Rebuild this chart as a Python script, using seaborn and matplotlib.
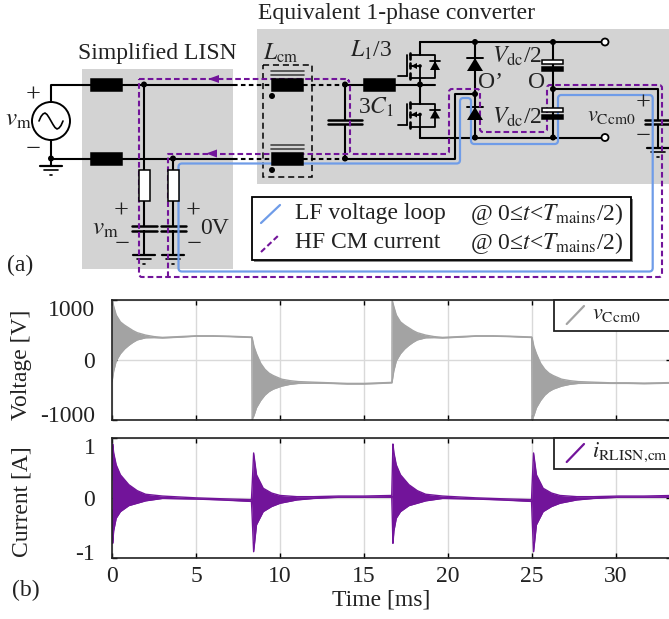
import numpy as np
import pandas as pd
import matplotlib
matplotlib.use("Agg")
import matplotlib.pyplot as plt
import seaborn as sns
from matplotlib.patches import Rectangle, Circle, Polygon, PathPatch
from matplotlib.path import Path
from matplotlib.transforms import ScaledTranslation

# values: envelope of the fast ringing
t_v = [0.0, 0.1, 0.25, 0.5, 0.75, 1.0, 1.25, 1.5, 2.0, 2.5, 3.0, 4.0, 5.0, 6.0, 7.0, 8.32,
       8.34, 8.45, 8.6, 8.85, 9.1, 9.35, 9.6, 10.1, 10.6, 11.1, 12.0, 13.0, 14.0, 15.0, 16.0, 16.66,
       16.67, 16.77, 16.92, 17.17, 17.42, 17.67, 17.92, 18.17, 18.67, 19.17, 19.67, 20.67, 21.67, 22.67, 23.67, 24.98,
       25.0, 25.11, 25.26, 25.51, 25.76, 26.01, 26.26, 26.76, 27.26, 27.76, 28.67, 29.67, 30.67, 31.67, 32.67, 33.4]
v_upper = [1000, 890, 745, 630, 575, 530, 485, 450, 410, 385, 372, 385, 398, 398, 392, 378,
           370, 220, 100, -60, -160, -225, -265, -325, -350, -365, -375, -385, -395, -395, -385, -378,
           1000, 890, 745, 630, 575, 530, 485, 450, 410, 385, 372, 385, 398, 398, 392, 378,
           370, 220, 100, -60, -160, -225, -265, -325, -350, -365, -375, -385, -385, -390, -385, -380]
v_lower = [-370, -190, -20, 100, 180, 240, 290, 330, 365, 368, 362, 375, 392, 392, 385, 370,
           -1000, -930, -800, -680, -590, -530, -490, -440, -410, -395, -390, -395, -405, -405, -395, -385,
           -370, -190, -20, 100, 180, 240, 290, 330, 365, 368, 362, 375, 392, 392, 385, 370,
           -1000, -930, -800, -680, -590, -530, -490, -440, -410, -395, -390, -395, -395, -400, -395, -388]

t_i = [0.0, 0.04, 0.1, 0.25, 0.5, 1.0, 1.5, 2.0, 3.0, 4.0, 5.0, 6.5, 8.3,
       8.34, 8.43, 8.6, 9.0, 9.5, 10.0, 11.0, 12.0, 13.5, 15.0, 16.65,
       16.67, 16.72, 16.78, 16.92, 17.17, 17.67, 18.17, 18.67, 19.67, 20.67, 21.67, 23.17, 24.97,
       25.0, 25.09, 25.26, 25.66, 26.16, 26.66, 27.66, 28.66, 30.16, 31.66, 33.4]
i_upper = [0.3, 0.9, 0.75, 0.55, 0.385, 0.22, 0.12, 0.06, 0.03, 0.015, 0.0, -0.015, -0.03,
           0.2, 0.75, 0.385, 0.16, 0.08, 0.04, 0.02, 0.02, 0.03, 0.03, 0.04,
           0.3, 0.9, 0.75, 0.55, 0.385, 0.22, 0.12, 0.06, 0.03, 0.015, 0.0, -0.015, -0.03,
           0.2, 0.75, 0.385, 0.16, 0.08, 0.04, 0.02, 0.02, 0.03, 0.03, 0.04]
i_lower = [-0.2, -0.76, -0.55, -0.34, -0.23, -0.13, -0.09, -0.05, -0.01, -0.015, -0.02, -0.035, -0.06,
           -0.3, -0.9, -0.45, -0.23, -0.145, -0.09, -0.035, -0.01, 0.01, 0.01, 0.01,
           -0.2, -0.76, -0.55, -0.34, -0.23, -0.13, -0.09, -0.05, -0.01, -0.015, -0.02, -0.035, -0.06,
           -0.3, -0.9, -0.45, -0.23, -0.145, -0.09, -0.035, -0.01, 0.01, 0.01, 0.01]

time_ticks = [0, 5, 10, 15, 20, 25, 30]
volt_ticks = [-1000, 0, 1000]
curr_ticks = [-1, 0, 1]

GRAY = "#a3a3a3"
PURPLE = "#72149a"
BLUE = "#6f9ce8"
BG = "#d3d3d3"

W, H = 669, 619
sns.set_theme(style="white")
plt.rcParams["font.family"] = ["Liberation Serif", "DejaVu Serif"]
plt.rcParams["mathtext.fontset"] = "stix"
plt.rcParams["axes.unicode_minus"] = False

fig = plt.figure(figsize=(W / 100, H / 100), dpi=100)


def px_axes(left, top, right, bottom):
    return fig.add_axes([left / W, 1 - bottom / H, (right - left) / W, (bottom - top) / H])


def envelope(ax, t, upper, lower, color, ymax, ticks):
    sns.lineplot(x=t, y=upper, ax=ax, color=color, lw=1.0, estimator=None, sort=False)
    sns.lineplot(x=t, y=lower, ax=ax, color=color, lw=1.0, estimator=None, sort=False)
    ax.fill_between(t, lower, upper, color=color, lw=0)
    ax.set_xlim(0, 33.27)
    ax.set_ylim(-ymax, ymax)
    ax.set_xticks(time_ticks)
    ax.set_yticks(ticks)
    ax.grid(True, color="#d9d9d9", lw=1.0)
    ax.set_axisbelow(True)
    ax.tick_params(direction="in", top=True, right=True, left=True, bottom=True, length=3.5,
                   width=1, color="black", labelsize=17, labelcolor="#222222")
    ax.tick_params(axis="y", pad=12)
    ax.tick_params(axis="x", pad=6)
    for s in ax.spines.values():
        s.set_color("#222222")
        s.set_linewidth(1.2)
    labels = ax.get_yticklabels()
    labels[0].set_va("center")
    labels[0].set_transform(labels[0].get_transform() + ScaledTranslation(0, 2 / 72, fig.dpi_scale_trans))
    labels[-1].set_va("top")


ax1 = px_axes(112, 299.7, 671, 419.7)
envelope(ax1, t_v, v_upper, v_lower, GRAY, 1000, volt_ticks)
ax1.set_xticklabels([])
ax2 = px_axes(112, 438, 671, 557.7)
envelope(ax2, t_i, i_upper, i_lower, PURPLE, 1, curr_ticks)

# everything else is drawn in pixel coordinates on top
ax = fig.add_axes([0, 0, 1, 1], zorder=5)
ax.set_xlim(0, W)
ax.set_ylim(H, 0)
ax.axis("off")

LW = 1.5


def wire(xs, ys, color="black", lw=LW, ls="-", z=3):
    ax.plot(xs, ys, color=color, lw=lw, ls=ls, zorder=z, solid_capstyle="round")


def node(x, y, r=3):
    ax.add_patch(Circle((x, y), r, fc="black", ec="none", zorder=6))


def block(x0, x1, y0, y1, fc="black", lw=1.1, z=5):
    ax.add_patch(Rectangle((x0, y0), x1 - x0, y1 - y0, fc=fc, ec="black", lw=lw, zorder=z))


def ground(x, y, w=11):
    wire([x - w, x + w], [y, y], lw=1.6)
    wire([x - w * 0.6, x + w * 0.6], [y + 4, y + 4], lw=1.2)
    wire([x - 1, x + 1], [y + 9, y + 9], lw=1.2)


def cap(x, y0, y1, w=12.5):
    wire([x - w, x + w], [y0, y0], lw=1.8, z=4)
    wire([x - w, x + w], [y1, y1], lw=1.8, z=4)


def label(x, y, s, size=17, ha="left", va="center", **kw):
    ax.text(x, y, s, fontsize=size, ha=ha, va=va, color="#222222", zorder=8, **kw)


def rounded(points, r=3.5, closed=False):
    verts, codes = [], []
    pts = [np.array(p, float) for p in points]
    n = len(pts)
    for i, p in enumerate(pts):
        if not closed and i in (0, n - 1):
            verts.append(p)
            codes.append(Path.MOVETO if i == 0 else Path.LINETO)
            continue
        a, b = pts[i - 1], pts[(i + 1) % n]
        p0 = p + (a - p) / np.linalg.norm(a - p) * r
        p1 = p + (b - p) / np.linalg.norm(b - p) * r
        verts.append(p0)
        codes.append(Path.MOVETO if i == 0 else Path.LINETO)
        verts += [p, p1]
        codes += [Path.CURVE3, Path.CURVE3]
    if closed:
        verts.append(verts[0])
        codes.append(Path.LINETO)
    return Path(verts, codes)


def mosfet(x, y):
    wire([x - 10, x, x, x + 15, x + 15, x], [y, y, y, y, y + 23, y + 23], lw=1.3)
    wire([x - 10, x], [y + 23, y + 23], lw=1.3)
    wire([x, x], [y + 11, y + 23], lw=1.3)
    wire([x - 10, x], [y + 11, y + 11], lw=1.3)
    for a, b in [(-2, 4), (8, 13), (18, 24)]:
        wire([x - 10, x - 10], [y + a, y + b], lw=1.9)
    wire([x - 13, x - 13], [y, y + 21], lw=1.3)
    wire([x - 22, x - 13], [y + 21, y + 21], lw=1.3)
    ax.add_patch(Polygon([[x - 9, y + 11], [x - 3, y + 8], [x - 3, y + 14]], fc="black", ec="none", zorder=6))
    ax.add_patch(Polygon([[x + 15, y + 6], [x + 10, y + 15], [x + 20, y + 15]], fc="black", ec="none", zorder=6))
    wire([x + 10, x + 20], [y + 6, y + 6], lw=1.3)
    node(x, y + 11, 1.8)


# gray backgrounds
ax.add_patch(Rectangle((82, 69), 151, 200, fc=BG, ec="none", zorder=1))
ax.add_patch(Rectangle((257, 29), 412, 155, fc=BG, ec="none", zorder=1))

# source and grid side wires
wire([51, 51, 91], [102, 84.5, 84.5])
wire([51, 91], [158.5, 158.5])
wire([51, 51], [140, 166])
ax.add_patch(Circle((51, 121), 19, fc="white", ec="black", lw=1.4, zorder=5))
sx = [39, 41, 43, 45, 47, 49, 51, 53, 55, 57, 59, 61, 63]
sy = [121, 116.5, 114, 113, 114.5, 117.5, 121, 124.5, 127.5, 129, 128, 125.5, 121]
ax.plot(sx, sy, color="black", lw=1.2, zorder=6)
node(51, 158.5)
ground(51, 166)

# simplified LISN
block(91, 122, 78.5, 90.5)
block(91, 122, 152.5, 164.5)
wire([122, 233], [84.5, 84.5])
wire([122, 233], [158.5, 158.5])
wire([144, 144], [84.5, 255])
wire([173, 173], [158.5, 255])
node(144, 84.5)
node(173, 158.5)
block(138.5, 149.5, 170, 201, fc="white")
block(167.5, 178.5, 170, 201, fc="white")
for cx in (144, 173):
    ax.add_patch(Rectangle((cx - 2, 227), 4, 3, fc=BG, ec="none", zorder=3.5))
    cap(cx, 226, 231)
    ground(cx, 255)

# CM choke and dashed links
wire([233, 272], [84.5, 84.5], ls=(0, (2.2, 1.6)))
wire([233, 272], [158.5, 158.5], ls=(0, (2.2, 1.6)))
wire([303, 345], [84.5, 84.5], ls=(0, (2.2, 1.6)))
wire([303, 345], [158.5, 158.5], ls=(0, (2.2, 1.6)))
block(272, 303, 78.5, 90.5)
block(272, 303, 152.5, 164.5)
for y in (71, 75, 145, 149):
    wire([271, 304], [y, y], color="#444444", lw=1.2)
node(272, 96)
node(272, 170)
ax.add_patch(Rectangle((263, 65), 49, 112, fc="none", ec="black", lw=1.1, ls=(0, (4, 2.5)), zorder=4))

# 3C1 and L1/3
wire([345, 345], [84.5, 158.5])
wire([345, 364], [84.5, 84.5])
wire([395, 435], [84.5, 84.5])
wire([345, 455, 455, 475], [158.5, 158.5, 94, 94])
node(345, 84.5)
node(345, 158.5)
ax.add_patch(Rectangle((343, 120.5), 4, 3, fc=BG, ec="none", zorder=3.5))
cap(345, 119.5, 124, w=17)
block(364, 395, 78.5, 90.5)

# half bridge
wire([420, 420], [42, 55])
wire([420, 420], [78, 103.5])
wire([420, 420], [126.5, 137.5])
wire([420, 605], [42, 42])
wire([420, 605], [137.5, 137.5])
node(420, 84.5)
mosfet(420, 55)
mosfet(420, 103.5)

# diodes
wire([475, 475], [42, 137.5])
for y in (58, 107):
    ax.add_patch(Polygon([[475, y], [467, y + 13], [483, y + 13]], fc="black", ec="none", zorder=6))
    wire([467, 483], [y, y], lw=1.4)
for y in (42, 94, 137.5):
    node(475, y)

# dc link capacitors
wire([553, 553], [42, 137.5])
for y in (60, 108):
    block(542, 563, y, y + 4, fc="white", z=6)
    block(542, 563, y + 7, y + 11, z=6)
for y in (42, 89, 137.5):
    node(553, y)
wire([553, 658, 658], [89, 89, 148])
ax.add_patch(Rectangle((656, 120.5), 4, 3, fc=BG, ec="none", zorder=3.5))
cap(658, 119.5, 124, w=13)
ground(658, 148)
ax.add_patch(Circle((605, 42), 3.5, fc="white", ec="black", lw=1.3, zorder=6))
ax.add_patch(Circle((605, 137.5), 3.5, fc="white", ec="black", lw=1.3, zorder=6))

# current loops
blue_pts = [(178.5, 163.5), (460, 163.5), (460, 98), (471, 98), (471, 144), (558, 144), (558, 95),
            (652.7, 95), (652.7, 271.5), (178.5, 271.5)]
ax.add_patch(PathPatch(rounded(blue_pts, closed=True), fc="none", ec=BLUE, lw=1.6, zorder=4.5))
dash = (0, (2.7, 1.5))
pur_pts = [(139, 79), (347, 79), (350, 82), (350, 154), (449, 154), (449, 89), (480, 89), (480, 132),
           (547, 132), (547, 85), (662, 85), (662, 277), (139, 277), (139, 79)]
ax.add_patch(PathPatch(rounded(pur_pts, r=3), fc="none", ec=PURPLE, lw=1.5, ls=dash, zorder=4.6))
ax.plot([168, 168, 175, 350], [277, 153.5, 153.5, 153.5], color=PURPLE, lw=1.5, ls=dash, zorder=4.6)
ax.add_patch(Polygon([[208, 79], [219, 75], [219, 83]], fc=PURPLE, ec="none", zorder=7))
ax.add_patch(Polygon([[206, 153.5], [217, 149.5], [217, 157.5]], fc=PURPLE, ec="none", zorder=7))

# circuit legend
ax.add_patch(Rectangle((253.5, 198.5), 379, 63, fc="#888888", ec="none", zorder=6.5))
ax.add_patch(Rectangle((251.5, 196.5), 379, 63, fc="white", ec="black", lw=1.3, zorder=7))
ax.plot([261, 280], [223, 205], color=BLUE, lw=1.6, zorder=8)
ax.plot([261, 280], [252, 234], color=PURPLE, lw=1.5, ls=dash, zorder=8)
label(295, 214, "LF voltage loop")
label(295, 243, "HF CM current")
label(470, 214, "@ 0\u2264$t$<$T_{\\mathrm{mains}}$/2)")
label(470, 243, "@ 0\u2264$t$<$T_{\\mathrm{mains}}$/2)")

# circuit text
label(78, 53, "Simplified LISN")
label(258, 13, "Equivalent 1-phase converter")
label(263, 53, r"$L_{\mathrm{cm}}$", size=17)
label(350, 50, r"$L_1$/3", size=17)
label(358, 107, r"3$C_1$", size=17)
label(5, 120, r"$v_{\mathrm{m}}$", size=18)
label(92, 229, r"$v_{\mathrm{m}}$", size=18)
label(200, 228, "0V", size=17)
label(26, 96, "+", size=19)
label(26, 150, "\u2212", size=19)
label(114, 212, "+", size=19)
label(115, 245, "\u2212", size=19)
label(186, 212, "+", size=19)
label(187, 245, "\u2212", size=19)
label(478, 83, "O\u2019")
label(528, 82, "O")
label(492, 56, r"$V_{\mathrm{dc}}$/2", size=17)
label(492, 117, r"$V_{\mathrm{dc}}$/2", size=17)
label(587, 117, r"$v_{\mathrm{Ccm0}}$", size=16)
label(636, 104, "+", size=19)
label(636, 137, "\u2212", size=19)
label(7, 265, "(a)")
label(12, 590, "(b)")

# plot legends and axis titles
for top, bot, col, y0, y1, txt in [(299.7, 330.7, GRAY, 324, 306, r"$v_{\mathrm{Ccm0}}$"),
                                   (438, 469, PURPLE, 462, 444, r"$i_{\mathrm{RLISN{,}cm}}$")]:
    ax.add_patch(Rectangle((554, top), 130, bot - top, fc="white", ec="#222222", lw=1.3, zorder=7))
    ax.plot([566.7, 584], [y0, y1], color=col, lw=1.6, zorder=8)
    label(592, (top + bot) / 2 - 1, txt, size=16)
label(22, 365, "Voltage [V]", ha="center", rotation=90)
label(22, 502, "Current [A]", ha="center", rotation=90)
label(381.5, 600, "Time [ms]", ha="center")

fig.savefig("out.png", dpi=100)
